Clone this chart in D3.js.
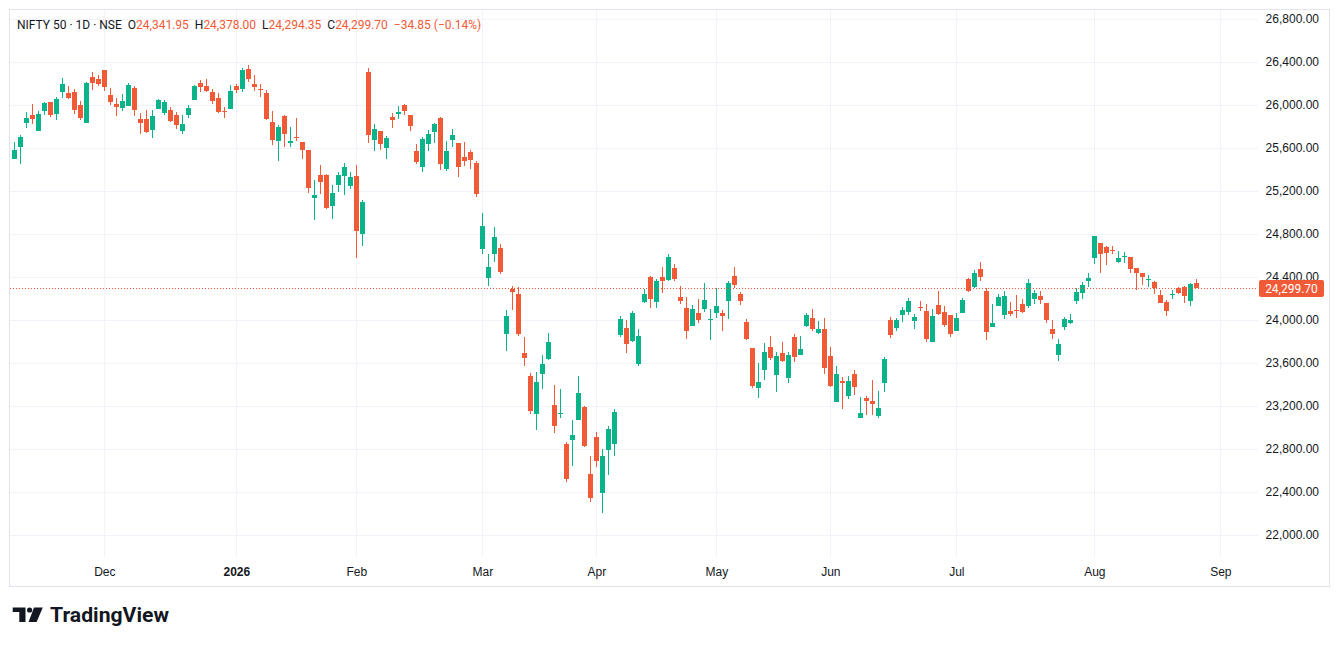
<!DOCTYPE html>
<html>
<head>
<meta charset="utf-8">
<script src="https://cdn.jsdelivr.net/npm/d3@7/dist/d3.min.js"></script>
<style>
  body { margin: 0; background: #fff; }
  svg { display: block; font-family: Roboto, "Noto Sans", sans-serif; }
</style>
</head>
<body>
<svg id="chart" width="1339" height="646"></svg>
<script>
// daily NIFTY 50 candles, oldest first
const opens = [
  25501,25612,25836,25907,25761,25947,26028,25919,26124,26112,26121,26000,25836,26260,26242,26325,26093,26009,25975,25994,
  26158,25870,25870,25771,25963,25929,25953,25907,25761,25907,26050,26205,26177,26121,26065,25944,25966,26177,26152,26335,
  26195,26152,26112,25842,25668,25898,25650,25705,25656,25581,25138,25349,25349,25064,25259,25343,25250,25340,24803,26307,
  25678,25758,25603,25888,25919,26000,25907,25572,25426,25640,25752,25879,25408,25678,25647,25516,25563,25461,24660,24391,
  24614,24670,23870,24291,24242,23693,23479,23129,23501,23637,23209,23129,22846,22887,23073,23190,22568,22912,22394,22794,
  22850,23864,23926,23808,23594,24171,24400,24171,24400,24376,24484,24214,24112,23948,24066,24106,24000,24069,24066,24180,
  24410,24242,23982,23743,23371,23538,23749,23492,23694,23464,23842,23678,23947,24019,23882,23916,23665,23240,23433,23296,
  23498,23092,23275,23247,23110,23417,24000,23929,24050,24077,23991,24124,24084,23798,24139,24074,24046,23901,24066,24382,
  24310,24475,24270,23938,24134,24050,24084,24093,24149,24134,24199,24224,24159,23917,23678,23938,23976,24180,24252,24363,
  24580,24717,24679,24655,24543,24586,24586,24487,24438,24372,24354,24233,24168,24233,24298,24307,24180,24341.95
];
const highs = [
  25653,25721,25938,26009,25944,26028,26028,26074,26251,26177,26149,26037,26214,26307,26279,26325,26158,26062,26102,26205,
  26177,25926,25953,25953,26056,26046,25981,25935,25907,26000,26186,26232,26242,26149,26112,25981,26186,26195,26344,26372,
  26279,26195,26139,25944,25814,25907,25795,25879,25656,25585,25302,25442,25361,25256,25380,25464,25380,25442,25116,26344,
  25823,25758,25715,25926,25991,26009,25907,25637,25702,25767,25833,25888,25665,25777,25647,25656,25581,25479,24995,24614,
  24865,24707,24093,24316,24307,23845,23507,23516,23674,23879,23395,23358,22865,23073,23479,23200,22735,22958,22803,23014,
  23172,24037,24000,24084,23917,24289,24410,24382,24493,24614,24521,24317,24214,24140,24196,24345,24103,24298,24093,24363,
  24493,24261,24010,23743,23604,23786,23852,23706,23796,23703,23870,23851,24065,24102,23991,24019,23749,23572,23470,23479,
  23535,23284,23293,23445,23340,23656,24028,24019,24121,24205,24056,24177,24149,24102,24270,24130,24046,24065,24205,24394,
  24465,24540,24301,24149,24242,24270,24168,24233,24196,24382,24279,24270,24159,24000,23824,24028,24056,24298,24354,24438,
  24782,24717,24689,24689,24642,24633,24586,24487,24438,24419,24363,24279,24186,24279,24307,24317,24345,24378.00
];
const lows = [
  25495,25454,25789,25820,25755,25910,25885,25864,26068,26059,25919,25864,25836,26143,26177,26133,26003,25901,25947,25994,
  25901,25733,25743,25696,25963,25907,25845,25780,25733,25882,26050,26124,26124,26012,25929,25882,25966,26115,26124,26217,
  26133,26077,25864,25631,25482,25612,25612,25668,25501,25185,24934,25175,25036,24943,25194,25166,25222,24580,24692,25650,
  25575,25585,25501,25789,25873,25907,25761,25454,25380,25575,25647,25399,25389,25612,25333,25436,25408,25147,24614,24316,
  24539,24428,23712,24093,23854,23575,23129,22980,23361,23628,22952,23091,22496,22645,23073,22822,22310,22636,22208,22562,
  22738,23845,23696,23799,23576,24162,24115,24115,24255,24366,24366,24152,23827,23948,23976,24078,23818,24022,23901,24013,
  24301,24143,23818,23371,23278,23445,23632,23334,23613,23418,23612,23678,23938,23901,23873,23501,23380,23240,23175,23268,
  23306,23092,23120,23120,23092,23333,23836,23901,23985,24050,23919,24087,23798,23798,24050,23938,23845,23901,24066,24261,
  24301,24366,23818,23938,24134,24013,24041,24022,24069,24115,24149,24152,23976,23827,23622,23911,23966,24152,24199,24307,
  24524,24441,24515,24617,24534,24534,24441,24283,24329,24307,24245,24162,24041,24199,24245,24162,24134,24294.35
];
const closes = [
  25581,25702,25879,25873,25916,26019,25910,26056,26195,26065,25957,25882,26205,26208,26198,26170,26031,25981,26037,26186,
  25957,25836,25752,25898,26046,26028,25854,25817,25823,25972,26177,26167,26133,26040,25938,25938,26130,26143,26325,26245,
  26170,26143,25873,25678,25795,25733,25665,25696,25585,25231,25163,25287,25045,25182,25349,25423,25330,24831,25098,25724,
  25777,25640,25693,25864,25935,25947,25808,25473,25684,25730,25823,25454,25572,25721,25426,25482,25492,25175,24874,24493,
  24772,24446,24037,24260,23873,23650,23157,23423,23591,23795,23017,23138,22524,22930,23321,22831,22348,22692,22738,22986,
  23144,24009,23780,24066,23852,24242,24199,24363,24366,24586,24385,24180,23901,24103,24004,24186,24010,24131,24041,24345,
  24329,24180,23827,23390,23427,23703,23650,23666,23622,23675,23659,23730,24046,23919,23916,23557,23389,23498,23417,23433,
  23380,23135,23250,23222,23185,23637,23864,24000,24093,24177,24028,24115,23826,24037,24059,23957,23873,24019,24186,24270,
  24438,24403,23892,23976,24214,24224,24059,24084,24078,24345,24252,24190,24004,23873,23777,24010,24000,24261,24326,24391,
  24782,24617,24627,24648,24577,24596,24478,24441,24403,24382,24298,24162,24087,24242,24255,24227,24334.55,24299.70
];

// time axis labels and the candle index they sit on
const monthLabels = ['Dec', '2026', 'Feb', 'Mar', 'Apr', 'May', 'Jun', 'Jul', 'Aug', 'Sep'];
const monthIndex  = [15, 37, 57, 78, 97, 117, 136, 157, 180, 201];
const priceTicks  = [22000, 22400, 22800, 23200, 23600, 24000, 24400, 24800, 25200, 25600, 26000, 26400, 26800];

const UP = '#0bb38a';
const DOWN = '#f15a37';
const TEXT = '#131722';

const svg = d3.select('#chart');
const plot = { left: 10, right: 1258, top: 10, bottom: 557 };

const x = d3.scaleLinear().domain([-0.72, 207.28]).range([plot.left, plot.right]);
const y = d3.scaleLinear().domain([21795, 26884]).range([plot.bottom, plot.top]);

const candles = closes.map((c, i) => ({ i, o: opens[i], h: highs[i], l: lows[i], c }));
const last = candles[candles.length - 1];
const fmt = d3.format(',.2f');

// outer frame
svg.append('rect')
  .attr('x', 9.5).attr('y', 9.5).attr('width', 1320).attr('height', 577)
  .attr('fill', '#fff').attr('stroke', '#e0e3eb');

// grid
const grid = svg.append('g').attr('shape-rendering', 'crispEdges');
grid.selectAll('line.h').data(priceTicks).join('line')
  .attr('class', 'h')
  .attr('x1', plot.left).attr('x2', plot.right)
  .attr('y1', d => Math.round(y(d)) + 0.5).attr('y2', d => Math.round(y(d)) + 0.5)
  .attr('stroke', '#f0f3fa');
grid.selectAll('line.v').data(monthIndex).join('line')
  .attr('class', 'v')
  .attr('x1', d => Math.round(x(d)) + 0.5).attr('x2', d => Math.round(x(d)) + 0.5)
  .attr('y1', plot.top).attr('y2', plot.bottom)
  .attr('stroke', '#f0f3fa');

// price axis on the right
const yAxis = d3.axisRight(y).tickValues(priceTicks).tickSize(0).tickPadding(0).tickFormat(fmt);
const yg = svg.append('g').attr('transform', `translate(1319,0)`).call(yAxis);
yg.select('.domain').remove();
yg.selectAll('text')
  .attr('text-anchor', 'end').attr('x', 0)
  .attr('fill', TEXT).style('font-size', '12px');

// time axis
const xAxis = d3.axisBottom(x).tickValues(monthIndex).tickSize(0).tickPadding(0)
  .tickFormat((d, k) => monthLabels[k]);
const xg = svg.append('g').attr('transform', `translate(0,${plot.bottom + 10})`).call(xAxis);
xg.select('.domain').remove();
xg.selectAll('text')
  .attr('fill', TEXT).style('font-size', '12px')
  .style('font-weight', (d, k) => monthLabels[k] === '2026' ? '600' : '400');

// candles
const cg = svg.append('g').attr('shape-rendering', 'crispEdges');
const candle = cg.selectAll('g.candle').data(candles).join('g')
  .attr('class', 'candle')
  .attr('fill', d => d.c >= d.o ? UP : DOWN);
candle.append('rect')
  .attr('x', d => Math.round(x(d.i)))
  .attr('width', 1)
  .attr('y', d => y(d.h))
  .attr('height', d => Math.max(1, y(d.l) - y(d.h)));
candle.append('rect')
  .attr('x', d => Math.round(x(d.i)) - 2)
  .attr('width', 5)
  .attr('y', d => y(Math.max(d.o, d.c)))
  .attr('height', d => Math.max(1, Math.abs(y(d.o) - y(d.c))));

// last price line and label
svg.append('line')
  .attr('x1', plot.left).attr('x2', plot.right)
  .attr('y1', Math.round(y(last.c)) + 0.5).attr('y2', Math.round(y(last.c)) + 0.5)
  .attr('stroke', DOWN).attr('stroke-dasharray', '1,2');
svg.append('rect')
  .attr('x', 1259).attr('y', Math.round(y(last.c)) - 8)
  .attr('width', 65).attr('height', 17).attr('rx', 2)
  .attr('fill', DOWN);
svg.append('text')
  .attr('x', 1291.5).attr('y', Math.round(y(last.c)) + 0.5)
  .attr('text-anchor', 'middle').attr('dominant-baseline', 'central')
  .attr('fill', '#fff').style('font-size', '12px')
  .text(fmt(last.c));

// legend line
const prev = closes[closes.length - 2];
const change = last.c - prev;
const pct = change / prev * 100;
const legend = svg.append('text').attr('x', 17).attr('y', 29)
  .style('font-size', '12px').style('white-space', 'pre');
legend.append('tspan').attr('fill', TEXT).text('NIFTY 50 · 1D · NSE');
[['O', last.o], ['H', last.h], ['L', last.l], ['C', last.c]].forEach(([k, v]) => {
  legend.append('tspan').attr('dx', 6).attr('fill', TEXT).text(k);
  legend.append('tspan').attr('fill', DOWN).text(fmt(v));
});
legend.append('tspan').attr('dx', 6).attr('fill', DOWN)
  .text(`−${Math.abs(change).toFixed(2)} (−${Math.abs(pct).toFixed(2)}%)`);

// TradingView mark
const logo = svg.append('g').attr('fill', '#131722');
logo.append('path').attr('d', 'M12.7,607.5 H25.5 V622 H19.3 V612 H12.7 Z');
logo.append('circle').attr('cx', 29.6).attr('cy', 610).attr('r', 2.6);
logo.append('path').attr('d', 'M34,607.5 H42.8 L36.6,622 H28.6 Z');
logo.append('text')
  .attr('x', 50).attr('y', 622)
  .attr('textLength', 119).attr('lengthAdjust', 'spacingAndGlyphs')
  .style('font-size', '21px').style('font-weight', '700')
  .text('TradingView');
</script>
</body>
</html>
